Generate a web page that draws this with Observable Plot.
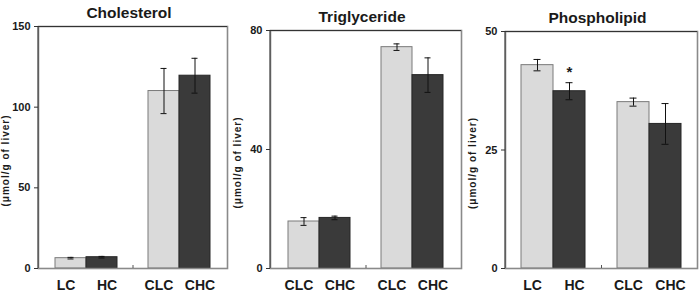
<!DOCTYPE html>
<html>
<head>
<meta charset="utf-8">
<script src="https://cdn.jsdelivr.net/npm/d3@7"></script>
<script src="https://cdn.jsdelivr.net/npm/@observablehq/plot@0.6"></script>
<style>
  html, body { margin: 0; padding: 0; background: #fff; }
  #chart { position: relative; width: 699px; height: 295px; background: #fff; }
  .panel { position: absolute; top: 0; }
  #chart svg, #chart svg text {
    font-family: "Liberation Sans", Arial, sans-serif !important;
    font-weight: bold;
  }
</style>
</head>
<body>
<div id="chart"></div>
<script>
// Hepatic lipid content, three panels (mean ± SE, µmol/g of liver)
const panelTitles = ["Cholesterol", "Triglyceride", "Phospholipid"];
const yAxisLabel = "(μmol/g of liver)";

const cholLabels = ["LC", "HC", "CLC", "CHC"];
const cholMeans  = [6.4, 7.0, 110.0, 119.5];
const cholErrors = [0.5, 0.5, 14.0, 10.8];
const cholTicks  = [0, 50, 100, 150];

const trigLabels = ["CLC", "CHC", "CLC", "CHC"];
const trigMeans  = [15.8, 17.0, 74.4, 65.0];
const trigErrors = [1.3, 0.6, 1.1, 5.8];
const trigTicks  = [0, 40, 80];

const phosLabels = ["LC", "HC", "CLC", "CHC"];
const phosMeans  = [42.9, 37.4, 35.1, 30.5];
const phosErrors = [1.2, 1.8, 0.85, 4.3];
const phosTicks  = [0, 25, 50];
const phosMarks  = ["", "*", "", ""];

// Bar slots: two pairs separated by an empty slot
const slotKeys = ["a1", "a2", "gap", "b1", "b2"];
const barKeys  = ["a1", "a2", "b1", "b2"];
const tones    = ["light", "dark", "light", "dark"];

const fillOf   = {light: "#dadada", dark: "#3a3a3a"};
const strokeOf = {light: "#7a7a7a", dark: "#262626"};

function panel({title, labels, means, errors, ticks, marks = [], left, width, marginLeft, marginRight, marginTop}) {
  const rows = means.map((m, i) => ({
    key: barKeys[i], label: labels[i], mean: m, err: errors[i], tone: tones[i], mark: marks[i] || ""
  }));
  const yMax = ticks[ticks.length - 1];
  const svg = Plot.plot({
    width, height: 295,
    marginLeft, marginRight, marginTop, marginBottom: 27,
    style: {background: "transparent", color: "#1a1a1a"},
    x: {type: "band", domain: slotKeys, paddingInner: 0, paddingOuter: 0.5},
    y: {domain: [0, yMax]},
    marks: [
      Plot.barY(rows, {x: "key", y: "mean", fill: d => fillOf[d.tone], stroke: d => strokeOf[d.tone], strokeWidth: 1}),
      // error bars
      Plot.ruleX(rows, {x: "key", y1: d => d.mean - d.err, y2: d => d.mean + d.err, stroke: "#111", strokeWidth: 1}),
      Plot.tickY(rows, {x: "key", y: d => d.mean + d.err, stroke: "#111", insetLeft: 12.5, insetRight: 12.5}),
      Plot.tickY(rows, {x: "key", y: d => d.mean - d.err, stroke: "#111", insetLeft: 12.5, insetRight: 12.5}),
      // significance marker
      Plot.text(rows.filter(d => d.mark), {x: "key", y: d => d.mean + d.err, text: "mark", dy: -11, fontSize: 15}),
      // plot box: grey right/bottom, dark left/top
      Plot.frame({stroke: "#8a8a8a", strokeWidth: 1.6}),
      Plot.ruleY([yMax], {stroke: "#333", strokeWidth: 1}),
      Plot.axisY({ticks, tickSize: 4, tickPadding: 4, fontSize: 11, label: null, stroke: "#333"}),
      // divider tick between the two pairs
      Plot.axisX({ticks: ["gap"], tickSize: 3, dy: -3, tickFormat: () => "", label: null, stroke: "#555"}),
      // category labels, each pair spread slightly apart
      Plot.text(rows.filter(d => d.tone === "light"), {x: "key", text: "label", frameAnchor: "bottom", lineAnchor: "middle", dy: 17, dx: -5, fontSize: 14}),
      Plot.text(rows.filter(d => d.tone === "dark"), {x: "key", text: "label", frameAnchor: "bottom", lineAnchor: "middle", dy: 17, dx: 5, fontSize: 14}),
      // y-axis title
      Plot.text([yAxisLabel], {frameAnchor: "left", textAnchor: "middle", lineAnchor: "middle", rotate: -90, dx: -33, dy: 13, fontSize: 10}),
      // panel title
      Plot.text([title], {frameAnchor: "top", lineAnchor: "middle", dy: -13, dx: -4, fontSize: 15.5})
    ]
  });
  // widen the rotated axis title a little
  d3.select(svg).selectAll("text").filter(function () { return this.textContent === yAxisLabel; })
    .style("letter-spacing", "1px");
  const div = document.createElement("div");
  div.className = "panel";
  div.style.left = left + "px";
  div.appendChild(svg);
  // dark left edge of the box
  const line = document.createElementNS("http://www.w3.org/2000/svg", "line");
  line.setAttribute("x1", marginLeft); line.setAttribute("x2", marginLeft);
  line.setAttribute("y1", marginTop); line.setAttribute("y2", 295 - 27);
  line.setAttribute("stroke", "#333");
  svg.appendChild(line);
  return div;
}

const chart = document.getElementById("chart");
chart.appendChild(panel({title: panelTitles[0], labels: cholLabels, means: cholMeans, errors: cholErrors, ticks: cholTicks,
  left: 0, width: 230, marginLeft: 38, marginRight: 3, marginTop: 26}));
chart.appendChild(panel({title: panelTitles[1], labels: trigLabels, means: trigMeans, errors: trigErrors, ticks: trigTicks,
  left: 230, width: 235, marginLeft: 40, marginRight: 4, marginTop: 30}));
chart.appendChild(panel({title: panelTitles[2], labels: phosLabels, means: phosMeans, errors: phosErrors, ticks: phosTicks, marks: phosMarks,
  left: 465, width: 234, marginLeft: 40, marginRight: 2, marginTop: 31}));
</script>
</body>
</html>
